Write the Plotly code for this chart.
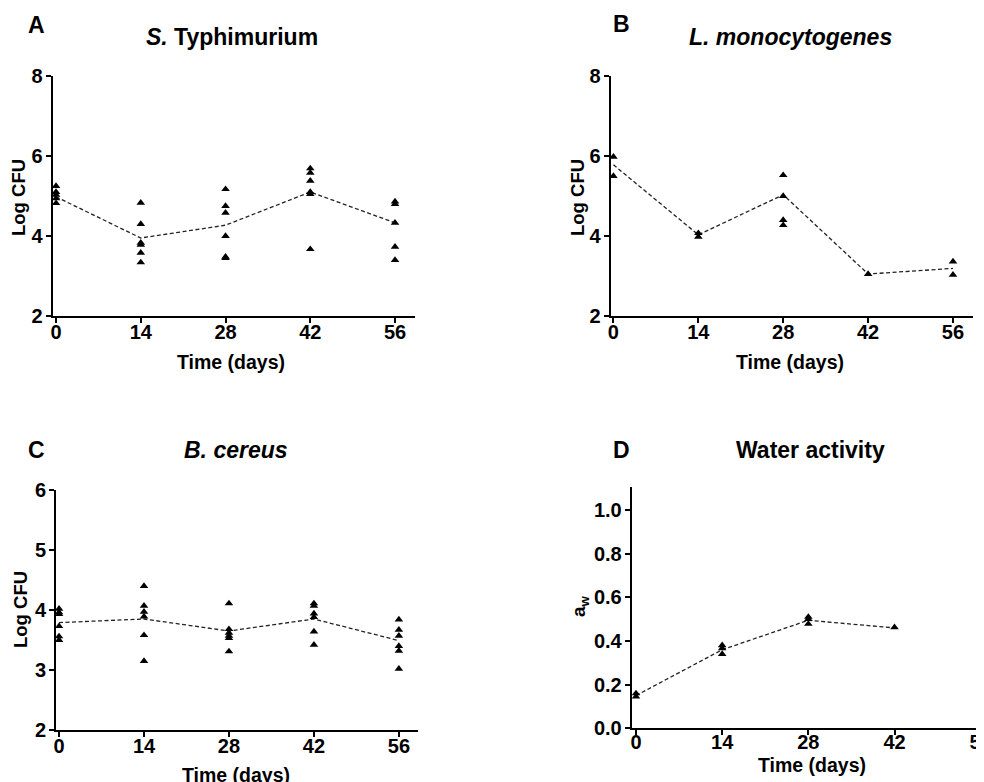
import plotly.graph_objects as go

# The page body has an 8px default margin; the figure is sized/positioned to compensate.
OFF = 8
W, H = 984 - OFF, 782 - OFF

days = [0, 14, 28, 42, 56]
tick_vals = [0, 14, 28, 42, 56]
tick_text = ["0", "14", "28", "42", "56"]

# A: S. Typhimurium (replicates per day)
a_d0 = [5.25, 5.10, 5.03, 4.94, 4.82]
a_d14 = [4.83, 4.30, 3.83, 3.78, 3.58, 3.34]
a_d28 = [5.17, 4.75, 4.58, 4.00, 3.48, 3.45]
a_d42 = [5.69, 5.58, 5.38, 5.10, 5.05, 3.67]
a_d56 = [4.86, 4.80, 4.33, 3.73, 3.40]
a_mean = [4.98, 3.95, 4.27, 5.10, 4.33]

# B: L. monocytogenes
b_d0 = [5.98, 5.50]
b_d14 = [4.07, 3.98]
b_d28 = [5.52, 5.00, 4.40, 4.27]
b_d42 = [3.05]
b_d56 = [3.36, 3.03]
b_mean = [5.78, 4.03, 5.03, 3.05, 3.19]

# C: B. cereus
c_d0 = [4.02, 3.96, 3.93, 3.73, 3.56, 3.50]
c_d14 = [4.40, 4.07, 3.97, 3.89, 3.58, 3.15]
c_d28 = [4.11, 3.68, 3.62, 3.57, 3.53, 3.31]
c_d42 = [4.11, 4.07, 3.94, 3.88, 3.64, 3.42]
c_d56 = [3.84, 3.67, 3.57, 3.40, 3.32, 3.02]
c_mean = [3.79, 3.85, 3.65, 3.85, 3.49]

# D: Water activity
d_days = [0, 14, 28, 42]
d_d0 = [0.160, 0.145]
d_d14 = [0.380, 0.366, 0.340]
d_d28 = [0.510, 0.500, 0.478]
d_d42 = [0.463]
d_mean = [0.15, 0.36, 0.495, 0.46]

FONT = "Liberation Sans, Arial, sans-serif"

def px_x(p):
    return min(1.0, (p - OFF) / W)

def px_y(p):
    return 1 - (p - OFF) / H

fig = go.Figure()

def add_panel(idx, reps, rep_days, mean_x, mean_y):
    xa = "x" if idx == 1 else f"x{idx}"
    ya = "y" if idx == 1 else f"y{idx}"
    fig.add_trace(go.Scatter(
        x=mean_x, y=mean_y, mode="lines", xaxis=xa, yaxis=ya,
        line=dict(color="#222222", width=1.3, dash="4px,2.5px"),
        showlegend=False, hoverinfo="skip"))
    xs, ys = [], []
    for d, vals in zip(rep_days, reps):
        xs += [d] * len(vals)
        ys += vals
    fig.add_trace(go.Scatter(
        x=xs, y=ys, mode="markers", xaxis=xa, yaxis=ya,
        marker=dict(symbol="triangle-up", size=7.5, color="black"),
        showlegend=False))

add_panel(1, [a_d0, a_d14, a_d28, a_d42, a_d56], days, days, a_mean)
add_panel(2, [b_d0, b_d14, b_d28, b_d42, b_d56], days, days, b_mean)
add_panel(3, [c_d0, c_d14, c_d28, c_d42, c_d56], days, days, c_mean)
add_panel(4, [d_d0, d_d14, d_d28, d_d42], d_days, d_days, d_mean)

axis_common = dict(
    showline=True, linecolor="black", linewidth=2,
    ticks="outside", ticklen=5, tickwidth=2, tickcolor="black",
    showgrid=False, zeroline=False, automargin=False,
    ticklabeloverflow="allow",
    tickfont=dict(family=FONT, size=20, color="black", weight="bold"),
)

panels = {
    1: dict(xd=[52.7, 415], yd=[76, 316], xr=[-0.55, 59.3], yr=[2, 8], ytv=[2, 4, 6, 8], fmt=None, so=-8),
    2: dict(xd=[610.7, 973], yd=[76, 316], xr=[-0.45, 59.3], yr=[2, 8], ytv=[2, 4, 6, 8], fmt=None, so=-8),
    3: dict(xd=[56, 417.7], yd=[490, 730], xr=[-0.5, 59.1], yr=[2, 6], ytv=[2, 3, 4, 5, 6], fmt=None, so=-8),
    4: dict(xd=[631.7, 984], yd=[486.7, 728.3], xr=[-0.7, 56.54], yr=[0, 1.107], ytv=[0, 0.2, 0.4, 0.6, 0.8, 1.0], fmt=".1f", so=-10),
}

layout_axes = {}
for i, p in panels.items():
    xk = "xaxis" if i == 1 else f"xaxis{i}"
    yk = "yaxis" if i == 1 else f"yaxis{i}"
    xa_anchor = "y" if i == 1 else f"y{i}"
    ya_anchor = "x" if i == 1 else f"x{i}"
    layout_axes[xk] = dict(axis_common, domain=[px_x(p["xd"][0]), px_x(p["xd"][1])],
                           range=p["xr"], anchor=xa_anchor, ticklabelstandoff=p["so"],
                           tickmode="array", tickvals=tick_vals, ticktext=tick_text)
    yd = dict(axis_common, domain=[px_y(p["yd"][1]), px_y(p["yd"][0])],
              range=p["yr"], anchor=ya_anchor, ticklabelstandoff=-1,
              tickmode="array", tickvals=p["ytv"])
    if p["fmt"]:
        yd["tickformat"] = p["fmt"]
    layout_axes[yk] = yd

def ann(text, x, y, size, angle=0):
    return dict(text=text, x=px_x(x), y=px_y(y), xref="paper", yref="paper",
                showarrow=False, textangle=angle, xanchor="center", yanchor="middle",
                font=dict(family=FONT, size=size, color="black", weight="bold"))

annotations = [
    ann("A", 36, 25, 23), ann("<i>S.</i> Typhimurium", 232, 37, 23),
    ann("B", 621, 24, 23), ann("<i>L. monocytogenes</i>", 790, 37, 23),
    ann("C", 36, 450, 23), ann("<i>B. cereus</i>", 236, 450, 23),
    ann("D", 621, 450, 23), ann("Water activity", 810, 450, 23),
    ann("Log CFU", 18, 198, 18.5, -90),
    ann("Log CFU", 577, 198, 18.5, -90),
    ann("Log CFU", 20, 610, 18.5, -90),
    ann("a<sub>w</sub>", 580, 606, 19, -90),
    ann("Time (days)", 231, 362, 19.5),
    ann("Time (days)", 790, 362, 19.5),
    ann("Time (days)", 236, 775, 19.5),
    ann("Time (days)", 812, 765, 19.5),
]

fig.update_layout(
    width=W, height=H,
    margin=dict(l=0, r=0, t=0, b=0),
    paper_bgcolor="white", plot_bgcolor="white",
    annotations=annotations,
    **layout_axes,
)

fig.write_html("out.html")
